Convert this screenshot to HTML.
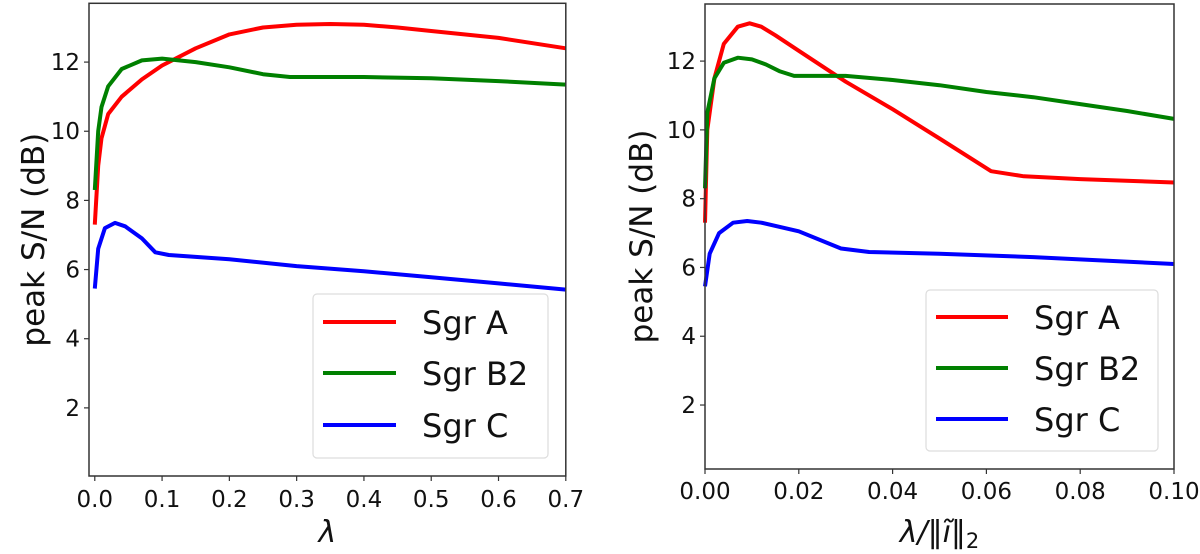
<!DOCTYPE html>
<html><head><meta charset="utf-8"><style>
html,body{margin:0;padding:0;background:#fff;width:1200px;height:554px;overflow:hidden}
svg{display:block;font-family:"DejaVu Sans","Liberation Sans",sans-serif}
</style></head><body>
<svg id="chart" width="1200" height="554" viewBox="0 0 1200 554"></svg>
<script>
const leftX_A=[0,0.005,0.01,0.02,0.04,0.07,0.1,0.15,0.2,0.25,0.3,0.35,0.4,0.45,0.5,0.6,0.7];
const leftY_A=[7.3,9,9.8,10.5,11,11.5,11.9,12.4,12.8,13.0,13.08,13.1,13.08,13.0,12.9,12.7,12.4];
const leftX_B=[0,0.005,0.01,0.02,0.04,0.07,0.1,0.15,0.2,0.25,0.29,0.4,0.5,0.6,0.7];
const leftY_B=[8.3,10,10.7,11.3,11.8,12.05,12.1,12.0,11.85,11.65,11.57,11.57,11.53,11.45,11.35];
const leftX_C=[0,0.005,0.015,0.03,0.045,0.07,0.09,0.11,0.2,0.3,0.4,0.5,0.6,0.7];
const leftY_C=[5.45,6.6,7.2,7.35,7.25,6.9,6.5,6.42,6.3,6.1,5.95,5.78,5.6,5.42];
const rightX_A=[0,0.0005,0.002,0.004,0.007,0.0095,0.012,0.015,0.02,0.03,0.04,0.05,0.061,0.068,0.08,0.1];
const rightY_A=[7.3,10,11.5,12.5,13.0,13.1,13.0,12.75,12.3,11.4,10.6,9.75,8.8,8.65,8.57,8.47];
const rightX_B=[0,0.0005,0.002,0.004,0.007,0.01,0.013,0.016,0.019,0.03,0.04,0.05,0.06,0.07,0.08,0.09,0.1];
const rightY_B=[8.3,10.5,11.5,11.95,12.1,12.05,11.9,11.7,11.57,11.57,11.45,11.3,11.1,10.95,10.75,10.55,10.32];
const rightX_C=[0,0.001,0.003,0.006,0.009,0.012,0.02,0.029,0.035,0.05,0.07,0.1];
const rightY_C=[5.45,6.4,7.0,7.3,7.35,7.3,7.05,6.55,6.45,6.4,6.3,6.1];
const seriesNames=["Sgr A","Sgr B2","Sgr C"];
const seriesColors=["#ff0000","#008000","#0000ff"];
const leftXTicks=[0,0.1,0.2,0.3,0.4,0.5,0.6,0.7];
const leftXTickLabels=["0.0","0.1","0.2","0.3","0.4","0.5","0.6","0.7"];
const rightXTicks=[0,0.02,0.04,0.06,0.08,0.1];
const rightXTickLabels=["0.00","0.02","0.04","0.06","0.08","0.10"];
const yTicks=[2,4,6,8,10,12];

const NS="http://www.w3.org/2000/svg";
const svg=document.getElementById('chart');
function mk(tag,attrs,parent){const e=document.createElementNS(NS,tag);for(const k in attrs)e.setAttribute(k,attrs[k]);(parent||svg).appendChild(e);return e;}

function panel(cfg){
  const g=mk('g',{});
  
  
  const sx=v=>cfg.x0+(v-cfg.xmin)/(cfg.xmax-cfg.xmin)*(cfg.x1-cfg.x0);
  const sy=v=>cfg.y1-(v-cfg.ymin)/(cfg.ymax-cfg.ymin)*(cfg.y1-cfg.y0);
  cfg.series.forEach((s,i)=>{
    const d=s.x.map((xv,j)=>(j?'L':'M')+sx(xv).toFixed(1)+' '+sy(s.y[j]).toFixed(1)).join(' ');
    const p=mk('path',{d:d,fill:'none',stroke:seriesColors[i],'stroke-width':4,'stroke-linejoin':'round'},g);
    
    
  });
  const fr=mk('rect',{x:cfg.x0,y:cfg.y0,width:cfg.x1-cfg.x0,height:cfg.y1-cfg.y0,fill:'none',stroke:'#333','stroke-width':1.5},g);
  
  
  cfg.xticks.forEach((t,i)=>{
    const x=sx(t);
    mk('line',{x1:x,x2:x,y1:cfg.y1,y2:cfg.y1+5,stroke:'#333','stroke-width':1.2},g);
    const tx=mk('text',{x:x,y:cfg.y1+cfg.xlo,'text-anchor':'middle','font-size':23,fill:'#111'},g);
    tx.textContent=cfg.xlabels[i];
    
    
  });
  yTicks.forEach(t=>{
    const y=sy(t);
    mk('line',{x1:cfg.x0-5,x2:cfg.x0,y1:y,y2:y,stroke:'#333','stroke-width':1.2},g);
    const tx=mk('text',{x:cfg.x0-9,y:y+8,'text-anchor':'end','font-size':23,fill:'#111'},g);
    tx.textContent=t;
    
    
  });
  const yl=mk('text',{x:0,y:0,transform:`translate(${cfg.ylx},${(cfg.y0+cfg.y1)/2}) rotate(-90)`,'text-anchor':'middle','font-size':31,fill:'#111'},g);
  yl.textContent='peak S/N (dB)';
  
  
  const xl=mk('text',{x:(cfg.x0+cfg.x1)/2,y:cfg.xly,'text-anchor':'middle','font-size':30,'font-style':'italic',fill:'#111','font-family':'"DejaVu Sans",sans-serif'},g);
  xl.innerHTML=cfg.xtitle;
  
  
  const L=cfg.leg;
  const lg=mk('g',{},g);
  
  
  mk('rect',{x:L.x,y:L.y,width:L.w,height:L.h,rx:4,fill:'#fff','fill-opacity':0.85,stroke:'#ddd','stroke-width':1.2},lg);
  seriesNames.forEach((n,i)=>{
    const y=L.ey[i];
    const ln=mk('line',{x1:L.lx0,x2:L.lx1,y1:y,y2:y,stroke:seriesColors[i],'stroke-width':4},lg);
    
    
    const t=mk('text',{x:L.tx,y:y+12,'font-size':32,fill:'#111'},lg);
    t.textContent=n;
    
    
  });
}

panel({name:'left-panel',x0:89,x1:565.8,y0:3.3,y1:476,xmin:-0.0086,xmax:0.7,ymin:0.03,ymax:13.7,
  xticks:leftXTicks,xlabels:leftXTickLabels,xlo:31,ylx:44,xly:542,xtitle:'λ',
  series:[{x:leftX_A,y:leftY_A},{x:leftX_B,y:leftY_B},{x:leftX_C,y:leftY_C}],
  leg:{x:313,y:294,w:235,h:164,lx0:323,lx1:396,tx:422,ey:[322,373,425]}});
panel({name:'right-panel',x0:705,x1:1174,y0:4,y1:469,xmin:0,xmax:0.1,ymin:0.14,ymax:13.66,
  xticks:rightXTicks,xlabels:rightXTickLabels,xlo:30,ylx:652,xly:542,xtitle:'λ/‖<tspan>ĩ</tspan>‖<tspan font-style="normal" font-size="21" dy="6">2</tspan>',
  series:[{x:rightX_A,y:rightY_A},{x:rightX_B,y:rightY_B},{x:rightX_C,y:rightY_C}],
  leg:{x:926,y:290,w:232,h:161,lx0:936,lx1:1008,tx:1034,ey:[317,368,419]}});
</script>
</body></html>
